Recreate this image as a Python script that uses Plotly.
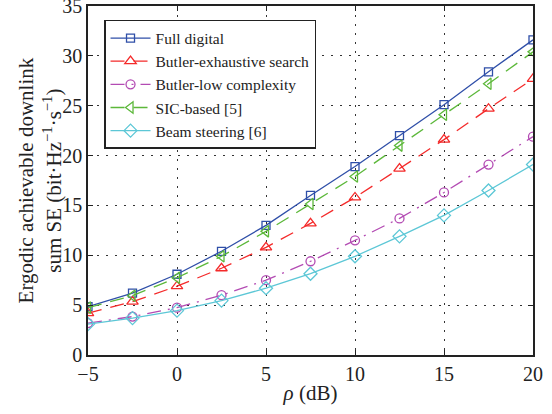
import plotly.graph_objects as go

rho = [-5, -2.5, 0, 2.5, 5, 7.5, 10, 12.5, 15, 17.5, 20]
full_digital = [4.85, 6.2, 8.1, 10.4, 13.0, 16.0, 18.9, 22.0, 25.1, 28.4, 31.6]
butler_exh = [4.2, 5.35, 6.9, 8.7, 10.8, 13.2, 15.8, 18.7, 21.6, 24.7, 27.7]
butler_low = [3.2, 3.85, 4.75, 6.0, 7.5, 9.4, 11.5, 13.7, 16.3, 19.1, 21.9]
sic_based = [4.75, 5.95, 7.75, 9.9, 12.4, 15.15, 17.9, 21.0, 24.1, 27.2, 30.4]
beam_steer = [3.1, 3.7, 4.45, 5.45, 6.7, 8.15, 9.9, 11.9, 14.0, 16.5, 19.1]

names = ["Full digital", "Butler-exhaustive search", "Butler-low complexity",
         "SIC-based [5]", "Beam steering [6]"]
series = [full_digital, butler_exh, butler_low, sic_based, beam_steer]
colors = ["#2F4FA8", "#F42A2A", "#B34BB3", "#5CB83A", "#5CC7D6"]
symbols = ["square-open", "triangle-up-open", "circle-open", "triangle-left-open", "diamond-open"]
sizes = [8, 10, 9, 10, 10]
dashes = ["solid", "14px,9px", "14px,7px,2px,7px", "14px,9px", "solid"]

fig = go.Figure()
for n, s, c, sym, sz, d in zip(names, series, colors, symbols, sizes, dashes):
    fig.add_trace(go.Scatter(
        x=rho, y=s, name=n, mode="lines+markers",
        line=dict(color=c, width=1.3, dash=d),
        marker=dict(symbol=sym, size=sz, color=c, line=dict(width=1.3, color=c)),
    ))

fam = "Liberation Serif"
tickfont = dict(family=fam, size=20, color="#222")
titlefont = dict(family=fam, size=21, color="#222")
axis_common = dict(
    showline=True, linecolor="#222", linewidth=1.6, mirror="ticks",
    ticks="inside", ticklen=5, tickcolor="#222", tickwidth=1,
    showgrid=True, gridcolor="#333", gridwidth=1, griddash="2px,7px",
    zeroline=False, tickfont=tickfont, ticklabeloverflow="allow",
)
fig.update_xaxes(range=[-5, 20], tickvals=[-5, 0, 5, 10, 15, 20],
                 ticktext=["\u22125", "0", "5", "10", "15", "20"],
                 title=dict(text="<i>\u03c1</i> (dB)", font=titlefont, standoff=2), **axis_common)
fig.update_yaxes(range=[0, 35], tickvals=[0, 5, 10, 15, 20, 25, 30, 35], **axis_common)

fig.add_annotation(
    text="Ergodic achievable downlink<br>sum SE (bit\u00b7Hz<sup>\u22121</sup>\u00b7s<sup>\u22121</sup>)",
    xref="paper", yref="paper", x=-0.108, y=0.5, xanchor="center", yanchor="middle",
    textangle=-90, showarrow=False, font=titlefont,
)

fig.update_layout(
    width=552, height=414,
    margin=dict(l=88, r=19, t=6, b=59, autoexpand=False),
    paper_bgcolor="white", plot_bgcolor="white",
    font=tickfont,
    legend=dict(x=0.036, y=0.96, xanchor="left", yanchor="top",
                bgcolor="white", bordercolor="#222", borderwidth=1.5,
                font=dict(family=fam, size=15.5, color="#222"),
                tracegroupgap=0, itemwidth=40),
    showlegend=True,
)
fig.write_html("out.html", config={"displayModeBar": False},
               post_script="document.body.style.margin='0';")
